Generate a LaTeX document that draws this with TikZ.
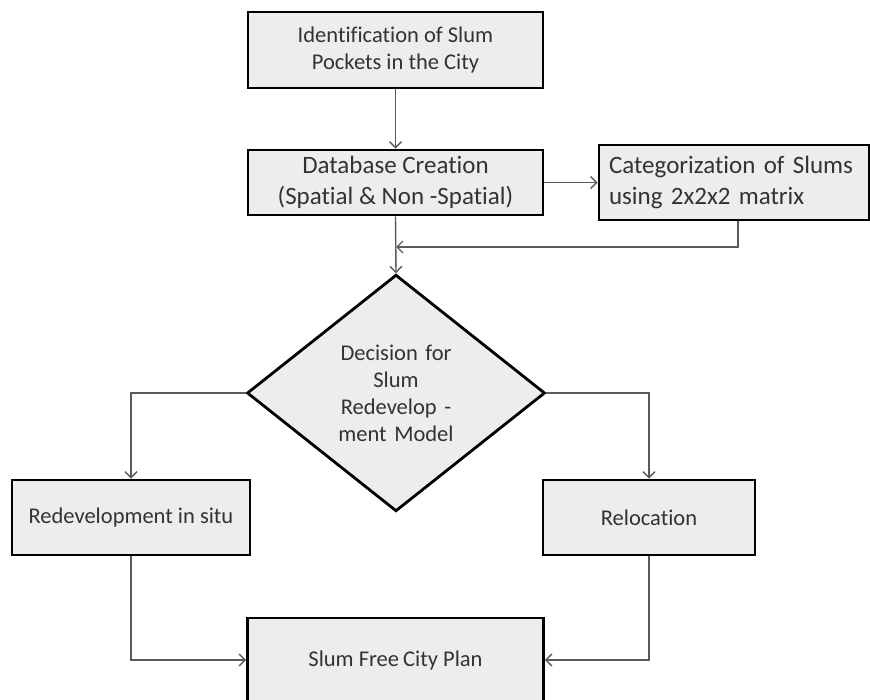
\documentclass[tikz,border=0pt]{standalone}
\usepackage{fontspec}
\setmainfont{Carlito}[Ligatures=CommonOff]
\usetikzlibrary{shapes.geometric,arrows.meta}

\definecolor{boxfill}{HTML}{EDEDED}
\definecolor{boxtext}{HTML}{333333}
\definecolor{wire}{HTML}{5A5A5A}

\tikzset{
  stepbox/.style={draw=black, line width=2.8pt, fill=boxfill, text=boxtext,
    rectangle, inner sep=0pt, align=center,
    font=\fontsize{22.5}{27.5}\selectfont},
  bigbox/.style={stepbox, font=\fontsize{25}{30.5}\selectfont},
  choice/.style={draw=black, line width=2.8pt, fill=boxfill, text=boxtext,
    diamond, inner sep=0pt, align=center, text width=140pt,
    font=\fontsize{22.5}{27}\selectfont},
  wireline/.style={draw=wire, line width=1.4pt,
    -{Straight Barb[length=6pt,width=12pt,line width=1.4pt]}}
}

\begin{document}
\begin{tikzpicture}[x=1pt,y=-1pt]
  \useasboundingbox (0,0) rectangle (870,700);

  % boxes
  \node[stepbox, minimum width=295pt, minimum height=76pt] (ident) at (395.5,50)
    {Identification of Slum\\Pockets in the City};
  \node[bigbox, minimum width=295pt, minimum height=65pt] (db) at (395.5,182.5)
    {Database Creation\\(Spatial \& Non -Spatial)};
  \node[bigbox, minimum width=270pt, minimum height=75pt, align=left,
        text width=250pt] (cat) at (734,182.5)
    {Categorization\ of Slums\\using 2x2x2 matrix};
  \node[choice, minimum width=298pt, minimum height=228pt] (dec) at (396,393)
    {Decision for\\Slum\\Redevelop -\\ment Model};
  \node[stepbox, minimum width=238pt, minimum height=75pt] (insitu) at (131,517.5)
    {Redevelopment in situ};
  \node[stepbox, minimum width=212pt, minimum height=75pt] (reloc) at (649,517.5)
    {Relocation};
  \node[stepbox, minimum width=296pt, minimum height=84pt] (plan) at (395.5,660)
    {Slum Free\hspace{-1pt} City Plan};

  \coordinate (join) at (396,247);

  % connectors
  \draw[wireline] (ident) -- (db);
  \draw[wireline] (db.east) -- (cat.west);
  \draw[wireline] (cat.south -| 738,0) |- (join);
  \draw[wireline] (db.south) -- (dec.north);
  \draw[wireline] (dec.west) -| (insitu.north);
  \draw[wireline] (dec.east) -| (reloc.north);
  \draw[wireline] (insitu.south) |- (plan.west);
  \draw[wireline] (reloc.south) |- (plan.east);
\end{tikzpicture}
\end{document}
